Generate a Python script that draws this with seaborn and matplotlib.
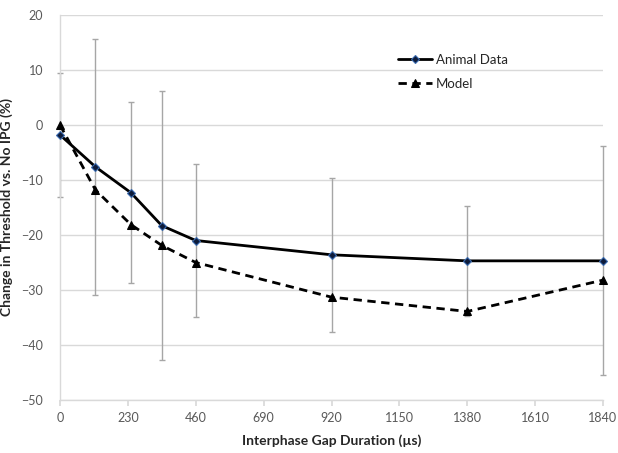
import matplotlib
matplotlib.use("Agg")
import matplotlib.pyplot as plt
import seaborn as sns
import pandas as pd
import numpy as np

# Data
ipg = [0, 120, 240, 345, 460, 920, 1380, 1840]
animal = [-1.8, -7.6, -12.3, -18.3, -21.0, -23.6, -24.7, -24.7]
animal_err = [11.3, 23.3, 16.4, 24.4, 13.9, 14.0, 10.0, 20.8]
model = [0.0, -11.8, -18.1, -21.9, -25.0, -31.3, -33.9, -28.2]
x_ticks = [0, 230, 460, 690, 920, 1150, 1380, 1610, 1840]
y_ticks = [-50, -40, -30, -20, -10, 0, 10, 20]

sns.set_theme(style="white")
plt.rcParams['font.family'] = ['Lato', 'DejaVu Sans']

df = pd.DataFrame({
    "IPG": ipg * 2,
    "value": animal + model,
    "series": ["Animal Data"] * len(ipg) + ["Model"] * len(ipg),
})

fig = plt.figure(figsize=(6.18, 4.53), dpi=100)
ax = fig.add_axes([60/618, 1-400/453, (603-60)/618, (400-15)/453])

eb = ax.errorbar(ipg, animal, yerr=animal_err, fmt='none', ecolor='#a6a6a6',
                 elinewidth=1.0, capsize=2.5, capthick=1.0, zorder=2)
for art in eb.get_children():
    art.set_clip_on(False)

sns.lineplot(data=df, x="IPG", y="value", hue="series", style="series",
             palette={"Animal Data": "black", "Model": "black"},
             dashes={"Animal Data": "", "Model": (3, 2)},
             markers={"Animal Data": "D", "Model": "^"},
             markersize=5, linewidth=2.0, ax=ax, zorder=3,
             markeredgecolor='black')

# marker styling
for line in ax.get_lines():
    line.set_clip_on(False)
    if line.get_marker() == 'D':
        line.set_markerfacecolor('#0d1b3a')
        line.set_markeredgecolor('#3a6bb0')
        line.set_markersize(4.5)
        line.set_markeredgewidth(0.8)
    elif line.get_marker() == '^':
        line.set_markersize(6)

ax.set_xlim(0, 1840)
ax.set_ylim(-50, 20)
ax.set_xticks(x_ticks)
ax.set_yticks(y_ticks)
ax.yaxis.grid(True, color='#d9d9d9', linewidth=1.0)
ax.xaxis.grid(False)
ax.set_axisbelow(True)

for s in ['top', 'right']:
    ax.spines[s].set_visible(False)
ax.spines['left'].set_color('#d9d9d9')
ax.spines['bottom'].set_color('#d9d9d9')
ax.spines['left'].set_linewidth(1.0)
ax.spines['bottom'].set_linewidth(1.0)
ax.tick_params(axis='x', bottom=True, length=4, color='#d9d9d9', direction='out',
               labelsize=9, labelcolor='#595959', pad=5)
ax.tick_params(axis='y', left=False, labelsize=9, labelcolor='#595959', pad=6)

ax.set_xlabel("Interphase Gap Duration (µs)", fontsize=10, fontweight='bold',
              color='#262626', labelpad=7)
ax.set_ylabel("Change in Threshold vs. No IPG (%)", fontsize=10, fontweight='bold',
              color='#262626', labelpad=6)

leg = ax.legend(loc='upper left', bbox_to_anchor=(0.6, 0.93), frameon=False,
                fontsize=9.5, handlelength=2.6, handletextpad=0.3, labelspacing=0.9)
leg.set_title(None)

fig.savefig("out.png", dpi=100)
